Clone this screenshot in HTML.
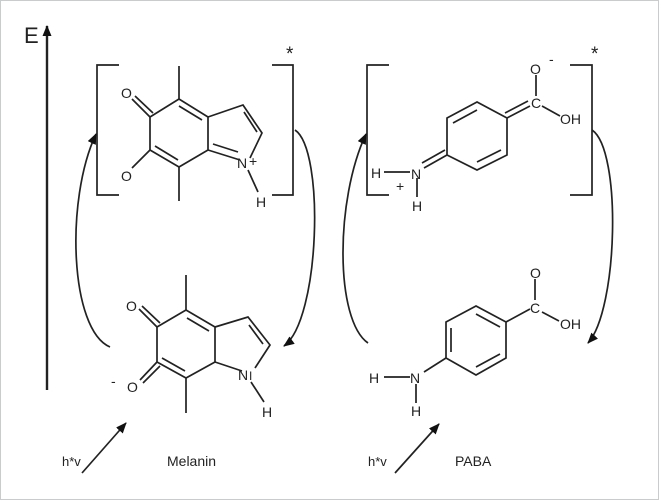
<!DOCTYPE html>
<html><head><style>html,body{margin:0;padding:0;background:#fff}svg{display:block}</style></head>
<body>
<svg width="659" height="500" viewBox="0 0 659 500" xmlns="http://www.w3.org/2000/svg" font-family="Liberation Sans, sans-serif" fill="#222">
<defs><marker id="a" markerWidth="11" markerHeight="9" refX="10" refY="4.5" orient="auto" markerUnits="userSpaceOnUse"><path d="M0,0 L11,4.5 L0,9 z" fill="#111"/></marker></defs>
<rect x="0.5" y="0.5" width="658" height="499" fill="#fff" stroke="#c8cccc"/>
<g stroke="#222" stroke-width="1.7" fill="none">
<line x1="47" y1="390" x2="47" y2="26" stroke-width="2.4" marker-end="url(#a)"/>
<path d="M119,65 H97 V195 H119"/><path d="M272,65 H293 V195 H272"/>
<path d="M389,65 H367 V195 H389"/><path d="M570,65 H592 V195 H570"/>
<path d="M179,99 L150,117 L150,150 L179,167 L208,150 L208,117 Z"/>
<path d="M179,106 L202,120 M155,146 L178,160"/>
<path d="M179,99 V66 M179,167 V201 M150,117 L132,99 M153,113 L135,96 M150,150 L132,168"/>
<path d="M208,117 L243,105 L262,133 L250,158 M208,150 L240,160 M244,112 L257,132 M213,144 L238,152 M248,170 L258,192"/>
<path d="M186,310 L157,327 L157,362 L186,378 L215,362 L215,327 Z"/>
<path d="M187,318 L209,331 M162,358 L185,371"/>
<path d="M186,310 V275 M186,378 V413 M157,327 L139,309 M160,323 L142,306 M157,362 L140,380 M160,366 L143,383"/>
<path d="M215,327 L248,317 L270,345 L255,368 M215,362 L242,371 M249,325 L263,344 M251,382 L264,402"/>
<path d="M477,102 L447,118 L447,155 L477,170 L507,155 L507,118 Z"/>
<path d="M477,110 L453,123 M477,162 L501,150"/>
<path d="M507,118 L530,106 M505,113 L528,101 M536,75 V96 M542,106 L560,116"/>
<path d="M447,155 L424,168 M445,150 L422,163 M410,172 H384 M417,178 V197"/>
<path d="M476,306 L446,322 L446,358 L476,375 L506,358 L506,322 Z"/>
<path d="M451,328 V352 M476,314 L500,327 M476,367 L500,354"/>
<path d="M506,322 L530,309 M535,279 V300 M542,312 L559,321"/>
<path d="M446,358 L424,372 M410,377 H384 M416,384 V403"/>
<path d="M110,347 C70,330 65,200 96,134" marker-end="url(#a)"/>
<path d="M295,130 C325,150 320,320 284,346" marker-end="url(#a)"/>
<path d="M368,343 C335,320 335,200 366,134" marker-end="url(#a)"/>
<path d="M592,130 C622,150 618,310 588,343" marker-end="url(#a)"/>
<line x1="82" y1="473" x2="126" y2="423" marker-end="url(#a)"/>
<line x1="395" y1="473" x2="439" y2="424" marker-end="url(#a)"/>
</g>
<g font-size="14">
<text x="24" y="43" font-size="22">E</text>
<text x="286" y="60" font-size="19">*</text><text x="591" y="60" font-size="19">*</text>
<text x="121" y="98">O</text><text x="121" y="181">O</text>
<text x="237" y="168">N</text><text x="249" y="166">+</text><text x="256" y="207">H</text>
<text x="126" y="311">O</text><text x="127" y="392">O</text><text x="111" y="386">-</text>
<text x="238" y="380">N</text><text x="249" y="380" font-size="12">I</text><text x="262" y="417">H</text>
<text x="530" y="74">O</text><text x="549" y="64">-</text><text x="531" y="108">C</text><text x="560" y="124">OH</text>
<text x="371" y="178">H</text><text x="411" y="179">N</text><text x="396" y="191">+</text><text x="412" y="211">H</text>
<text x="530" y="278">O</text><text x="530" y="313">C</text><text x="560" y="329">OH</text>
<text x="369" y="383">H</text><text x="410" y="383">N</text><text x="411" y="416">H</text>
<text x="62" y="466" font-size="13">h*v</text><text x="368" y="466" font-size="13">h*v</text>
<text x="167" y="466">Melanin</text><text x="455" y="466">PABA</text>
</g>
</svg>
</body></html>
